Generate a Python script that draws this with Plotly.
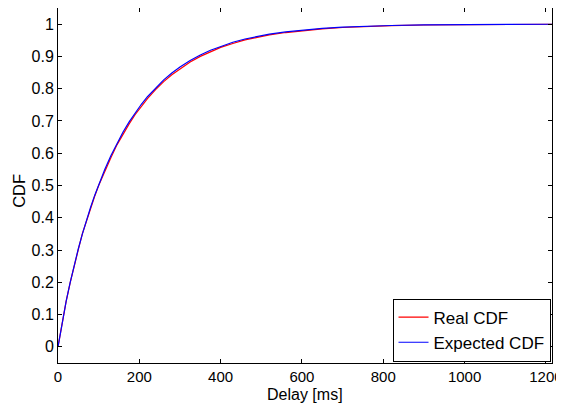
import plotly.graph_objects as go

delay_ms = [0, 10, 20, 30, 40, 50, 60, 70, 80, 90, 100, 115, 130, 145, 160, 175, 190,
            205, 220, 240, 260, 280, 300, 325, 350, 375, 400, 430, 460, 490, 520, 560,
            600, 650, 700, 760, 820, 900, 1000, 1100, 1215]

expected_cdf = [0.0, 0.0744, 0.1406, 0.2001, 0.2543, 0.3040, 0.3499, 0.3923, 0.4318,
                0.4685, 0.5027, 0.5498, 0.5924, 0.6309, 0.6657, 0.6973, 0.7258, 0.7517,
                0.7751, 0.8029, 0.8273, 0.8486, 0.8674, 0.8875, 0.9046, 0.9191, 0.9314,
                0.9438, 0.9539, 0.9621, 0.9690, 0.9761, 0.9817, 0.9868, 0.9905, 0.9936,
                0.9957, 0.9975, 0.9987, 0.9993, 0.9997]

real_cdf = [0.0, 0.075, 0.141, 0.199, 0.255, 0.302, 0.351, 0.390, 0.431, 0.466, 0.500,
            0.546, 0.586, 0.626, 0.660, 0.691, 0.720, 0.746, 0.769, 0.797, 0.822, 0.843,
            0.862, 0.883, 0.900, 0.915, 0.928, 0.940, 0.951, 0.959, 0.967, 0.974, 0.980,
            0.9855, 0.9895, 0.993, 0.9955, 0.9973, 0.9986, 0.9993, 0.9997]

x_ticks = [0, 200, 400, 600, 800, 1000, 1200]
x_tick_labels = ["0", "200", "400", "600", "800", "1000", "1200"]
y_ticks = [0.0, 0.1, 0.2, 0.3, 0.4, 0.5, 0.6, 0.7, 0.8, 0.9, 1.0]
y_tick_labels = ["0", "0.1", "0.2", "0.3", "0.4", "0.5", "0.6", "0.7", "0.8", "0.9", "1"]

FONT = "Liberation Sans, Arial, sans-serif"

fig = go.Figure()
fig.add_trace(go.Scatter(x=delay_ms, y=real_cdf, mode="lines", name="Real CDF",
                         line=dict(color="#ff0000", width=1.2)))
fig.add_trace(go.Scatter(x=delay_ms, y=expected_cdf, mode="lines", name="Expected CDF",
                         line=dict(color="#0000ff", width=1.2)))

axis_common = dict(showline=True, linecolor="black", linewidth=1, mirror="ticks",
                   ticks="inside", ticklen=4, tickcolor="black", showgrid=False,
                   zeroline=False, automargin=False)

fig.update_xaxes(range=[0, 1215], tickvals=x_ticks, ticktext=x_tick_labels,
                 tickfont=dict(family=FONT, size=15, color="black"), **axis_common)
fig.update_yaxes(range=[-0.05, 1.05], tickvals=y_ticks, ticktext=y_tick_labels,
                 tickfont=dict(family=FONT, size=16, color="black"), **axis_common)

fig.update_layout(
    width=556, height=397,
    margin=dict(l=50, r=12, t=0, b=42),
    paper_bgcolor="white", plot_bgcolor="white",
    showlegend=True,
    legend=dict(x=0.997, xanchor="right", y=0.004, yanchor="bottom",
                bordercolor="black", borderwidth=1, bgcolor="white",
                font=dict(family=FONT, size=17, color="black"),
                tracegroupgap=0, itemwidth=30),
    annotations=[
        dict(text="Delay [ms]", xref="paper", yref="paper", x=0.5, y=-0.09,
             xanchor="center", yanchor="middle", showarrow=False,
             font=dict(family=FONT, size=16, color="black")),
        dict(text="CDF", xref="paper", yref="paper", x=-0.079, y=0.485,
             xanchor="center", yanchor="middle", showarrow=False, textangle=-90,
             font=dict(family=FONT, size=16.5, color="black")),
    ],
)

fig.write_html("out.html")
